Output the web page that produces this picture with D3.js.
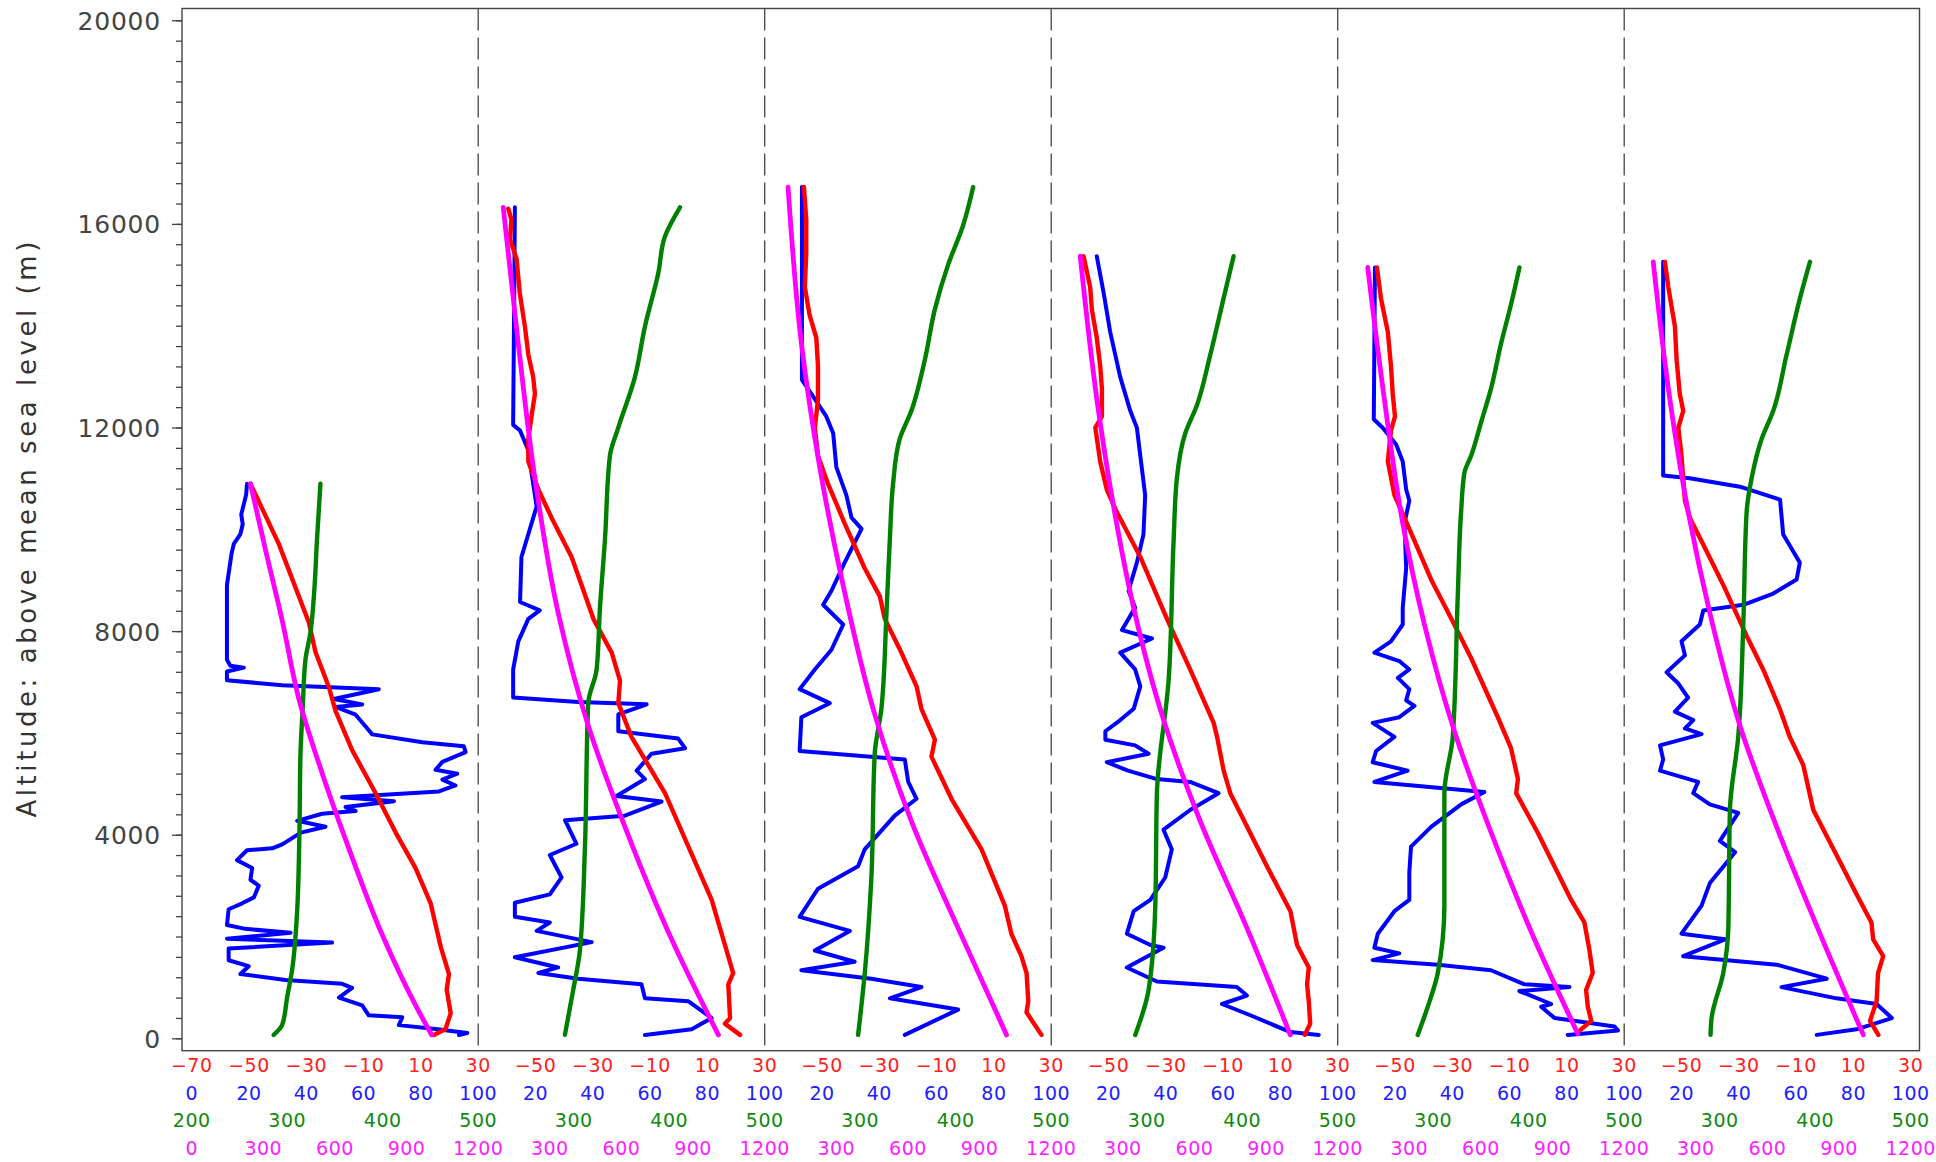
<!DOCTYPE html>
<html><head><meta charset="utf-8">
<script src="https://cdn.jsdelivr.net/npm/d3@7"></script>
<style>body{margin:0;background:#fff}svg{display:block}</style>
</head><body><svg id="chart" width="1936" height="1162"></svg>
<script>
// ---------- tick labels ----------
const altTicks = [0, 4000, 8000, 12000, 16000, 20000];
const tempTicks = [-70, -50, -30, -10, 10, 30];
const rhTicks = [0, 20, 40, 60, 80, 100];
const thetaTicks = [200, 300, 400, 500];
const presTicks = [0, 300, 600, 900, 1200];
const yTitle = "Altitude: above mean sea level (m)";

// ---------- data: [altitude m, value] ----------
// Panel 1
const temperature1 = [[10895,-49.5],[9714,-39.6],[8170,-29.1],[7591,-26.8],[6897,-22.1],[6434,-19.8],[5662,-14.0],[4813,-5.8],[4041,1.2],[3347,8.1],[2652,13.4],[1803,16.9],[1263,19.8],[954,19.0],[491,20.4],[182,18.6],[66,14.5]];
const humidity1 = [[10895,19.3],[10678,19.0],[10293,17.3],[10100,17.8],[9907,17.0],[9714,14.7],[9521,13.9],[8903,12.3],[7437,12.3],[7321,13.5],[7282,18.2],[7205,12.3],[7036,12.3],[6935,31.6],[6858,65.3],[6665,49.6],[6560,59.5],[6511,50.2],[6357,57.2],[6125,60.7],[5971,63.0],[5816,80.5],[5739,95.0],[5623,95.6],[5430,87.5],[5276,85.1],[5199,92.7],[5083,87.5],[4967,92.1],[4851,86.3],[4736,52.5],[4658,70.6],[4543,53.7],[4466,57.2],[4411,45.5],[4273,36.8],[4157,46.7],[4041,38.1],[3809,31.6],[3732,28.1],[3694,19.3],[3501,15.8],[3347,21.1],[3115,20.5],[2999,23.4],[2768,21.7],[2652,17.6],[2536,12.9],[2227,12.3],[2150,18.7],[2073,34.5],[1957,12.3],[1880,49.0],[1764,12.9],[1533,12.9],[1417,19.9],[1263,17.0],[1147,32.7],[1070,52.5],[992,56.0],[800,51.4],[645,59.5],[452,61.8],[414,73.5],[259,72.3],[182,85.1],[105,96.2],[66,93.3]];
const theta1 = [[10895,334.8],[9830,331.3],[8672,327.9],[7977,324.4],[7437,319.1],[6511,316.3],[5585,313.9],[4041,312.8],[2497,310.4],[1340,305.1],[800,299.9],[259,294.7],[66,285.9]];
const pressure1 = [[10895,246],[9598,309],[8209,379],[6665,449],[5199,547],[3732,658],[2034,798],[645,938],[66,1005]];
// Panel 2
const temperature2 = [[16300,-59.5],[16083,-58.4],[15697,-58.9],[15310,-56.6],[14647,-55.5],[13985,-53.7],[13432,-52.5],[12990,-50.8],[12659,-50.2],[12217,-51.4],[11775,-52.5],[11334,-52.5],[10781,-49.0],[10229,-44.4],[9456,-37.4],[8903,-33.9],[8241,-29.8],[7578,-23.4],[7026,-20.5],[6584,-21.1],[5921,-16.5],[4816,-4.8],[2718,11.5],[2276,13.8],[1724,16.7],[1282,19.0],[1061,17.3],[398,17.9],[288,16.1],[67,21.4]];
const humidity2 = [[16326,12.8],[14758,12.6],[12052,12.2],[11941,14.6],[11554,17.5],[11113,18.6],[10450,20.4],[9456,15.1],[8572,14.6],[8406,21.5],[8241,17.5],[7799,14.0],[7247,12.2],[6694,12.2],[6606,34.9],[6562,58.8],[6363,48.9],[6032,48.9],[5888,69.8],[5700,72.2],[5590,60.5],[5258,55.3],[5093,58.2],[4761,48.3],[4651,64.0],[4374,51.2],[4286,30.3],[3822,34.3],[3601,25.0],[3160,29.1],[2828,25.0],[2663,12.8],[2387,12.8],[2276,25.0],[2110,20.4],[1889,39.6],[1591,12.8],[1392,27.9],[1282,21.0],[1171,34.9],[1061,57.0],[785,58.2],[730,73.3],[398,81.5],[177,74.5],[67,58.2]];
const theta2 = [[16326,411.3],[15752,395.5],[15034,388.6],[13985,374.6],[12990,364.1],[11996,346.7],[11444,337.9],[9787,332.7],[8461,327.5],[7247,324.0],[6584,315.2],[3712,311.7],[1724,306.5],[950,299.5],[67,290.8]];
const pressure2 = [[16326,104.8],[13653,167.6],[11002,237.5],[8351,335.3],[6142,461],[4153,614.7],[1945,810],[67,1006]];
// Panel 3
const temperature3 = [[16724,-56.3],[16083,-55.5],[15420,-55.5],[14758,-56.0],[14205,-54.3],[13764,-52.0],[13211,-51.4],[12549,-51.4],[11996,-52.5],[11444,-51.4],[10892,-47.9],[10118,-42.1],[9235,-35.1],[8682,-29.8],[8241,-28.1],[7578,-22.3],[6915,-17.0],[6473,-15.3],[5866,-10.6],[5534,-11.8],[4706,-4.8],[3712,5.7],[2607,13.8],[2054,16.1],[1613,19.6],[1282,21.4],[729,22.0],[508,21.4],[67,26.6]];
const humidity3 = [[16724,13.0],[12935,13.0],[12659,16.3],[12217,21.5],[11886,23.9],[11223,25.0],[10671,28.5],[10229,30.3],[10008,33.8],[9345,27.9],[8793,23.3],[8517,20.4],[8130,27.4],[7633,23.3],[7247,17.5],[6860,12.2],[6584,22.7],[6308,12.8],[5645,12.2],[5479,48.9],[5037,50.1],[4706,53.0],[4374,45.4],[3712,34.9],[3380,32.6],[2938,18.6],[2387,12.2],[2110,29.7],[1724,17.5],[1503,31.4],[1337,12.8],[1171,37.2],[1006,54.7],[785,43.7],[564,67.5],[67,48.9]];
const theta3 = [[16724,418.3],[15973,407.8],[15200,392.1],[14316,378.1],[13322,367.6],[12328,353.6],[11775,341.4],[10892,334.4],[9787,331.0],[8351,327.5],[6473,322.2],[5590,315.2],[3159,311.7],[1282,304.8],[67,297.8]];
const pressure3 = [[16724,97.8],[13653,153.7],[11223,230.5],[8903,328.3],[6363,461],[4264,614.7],[2165,810],[67,1013]];
// Panel 4
const temperature4 = [[15365,-58.7],[14758,-56.4],[14316,-55.8],[13764,-54.1],[13211,-52.9],[12769,-52.3],[12217,-52.3],[11996,-54.6],[11334,-52.9],[10781,-50.6],[10339,-47.1],[9456,-38.9],[8241,-29.6],[7247,-21.5],[6197,-13.3],[5921,-12.1],[5258,-9.8],[4816,-7.5],[3380,5.3],[2497,13.5],[1834,15.8],[1392,19.9],[1061,19.3],[729,19.9],[287,20.4],[67,18.5]];
const humidity4 = [[15365,15.9],[14647,18.3],[13874,20.6],[12990,24.1],[12328,27.6],[11996,29.9],[11444,31.1],[10671,32.8],[9898,32.2],[9345,29.9],[8793,27.0],[8461,29.3],[8020,24.7],[7854,35.2],[7578,24.1],[7247,29.3],[6915,31.1],[6473,28.8],[6252,24.1],[6032,18.9],[5866,18.9],[5755,29.3],[5590,34.0],[5424,19.4],[5258,26.8],[5093,36.9],[5037,48.5],[4816,58.4],[4485,48.5],[4098,39.2],[3712,42.1],[3159,39.8],[2718,34.6],[2497,28.8],[2055,26.4],[1834,34.6],[1779,39.2],[1392,26.4],[1116,36.9],[1006,64.8],[840,68.3],[674,59.6],[453,69.5],[122,83.5],[67,93.4]];
const theta4 = [[15365,391.0],[14537,380.5],[13432,366.6],[12438,352.6],[11886,340.4],[11002,331.6],[9787,328.2],[7026,322.9],[4816,310.7],[2607,309.0],[950,302.0],[67,288.0]];
const pressure4 = [[15365,121.5],[12549,191.4],[10450,261.2],[8461,345.1],[6252,470.8],[4264,624.5],[2165,820],[67,1001.6]];
// Panel 5
const temperature5 = [[15144,-56.3],[14537,-54.9],[13874,-52.5],[13211,-51.4],[12659,-50.8],[12217,-50.0],[11941,-51.4],[11334,-52.5],[10671,-50.2],[10229,-46.7],[9014,-37.4],[8130,-29.3],[7467,-23.4],[6308,-14.1],[5700,-9.5],[5093,-7.1],[4816,-7.7],[4043,-0.2],[2718,11.5],[2276,16.1],[1724,17.9],[1282,19.0],[950,16.7],[619,17.3],[343,18.5],[122,13.8]];
const humidity5 = [[15144,13.0],[12162,12.6],[11996,15.7],[11665,20.4],[11334,22.7],[10781,23.9],[10560,25.0],[10118,23.3],[9235,23.9],[8461,22.7],[8130,22.7],[7799,18.6],[7578,12.8],[7412,21.5],[7247,25.0],[7081,21.0],[6860,25.0],[6639,23.9],[6529,26.8],[6308,21.5],[6197,12.2],[5921,19.8],[5645,13.4],[5424,12.2],[5258,24.4],[5037,12.8],[4839,51.2],[4596,43.1],[4153,32.6],[3767,25.6],[3270,25.0],[2718,25.0],[2497,19.8],[2055,14.0],[1779,12.8],[1669,21.5],[1536,12.2],[1447,34.9],[1337,53.5],[1061,65.2],[1006,80.9],[928,63.4],[674,74.5],[619,71.0],[398,75.7],[232,96.6],[155,97.8],[67,80.3]];
const theta5 = [[15144,390.3],[14426,381.6],[13653,371.1],[12769,360.6],[12107,350.2],[11444,339.7],[11113,332.7],[10340,329.2],[8682,325.7],[5921,320.5],[4816,311.7],[2607,311.7],[1282,304.8],[619,294.3],[67,283.8]];
const pressure5 = [[15144,125.7],[12549,195.6],[10118,272.4],[8130,363.2],[6032,488.9],[4043,642.6],[1945,824.2],[89,1005.8]];
// Panel 6
const temperature6 = [[15255,-55.8],[14758,-54.6],[13985,-52.3],[13322,-51.7],[12659,-50.6],[12328,-49.4],[11996,-51.1],[11444,-50.0],[10560,-48.8],[10229,-47.1],[9566,-41.2],[8903,-35.4],[7910,-27.3],[7247,-21.5],[6473,-15.7],[5921,-12.2],[5369,-7.5],[4485,-4.0],[3601,4.1],[2828,11.1],[2276,16.3],[1944,16.9],[1613,20.4],[1282,18.6],[729,18.1],[343,15.8],[67,18.7]];
const humidity6 = [[15255,13.6],[11057,13.6],[11002,22.9],[10837,40.4],[10582,54.4],[9898,55.5],[9621,58.4],[9345,61.3],[9014,60.2],[8738,52.0],[8517,41.6],[8406,27.6],[8130,26.4],[7799,20.0],[7523,21.2],[7191,14.8],[6970,18.9],[6694,22.3],[6418,17.7],[6252,24.1],[6087,21.2],[5976,27.0],[5755,12.5],[5479,13.6],[5258,12.5],[5037,25.8],[4816,24.1],[4595,29.9],[4430,39.8],[3877,33.4],[3656,38.7],[3049,29.9],[2607,27.0],[2055,20.0],[1944,35.2],[1613,20.6],[1447,53.2],[1171,70.7],[1006,54.9],[785,74.1],[674,88.1],[398,93.4],[177,81.1],[67,67.2]];
const theta6 = [[15255,394.5],[14537,384.0],[13432,370.1],[12328,356.1],[11775,343.9],[11002,333.4],[10340,328.2],[8130,324.7],[5921,319.4],[4485,310.7],[2165,309.0],[1282,303.7],[398,291.5],[67,290.4]];
const pressure6 = [[15255,121.5],[12549,191.4],[10339,268.2],[8351,359.0],[6142,484.8],[4153,638.4],[2055,820],[67,1001.6]];

const panels = [
  {temperature: temperature1, humidity: humidity1, theta: theta1, pressure: pressure1},
  {temperature: temperature2, humidity: humidity2, theta: theta2, pressure: pressure2},
  {temperature: temperature3, humidity: humidity3, theta: theta3, pressure: pressure3},
  {temperature: temperature4, humidity: humidity4, theta: theta4, pressure: pressure4},
  {temperature: temperature5, humidity: humidity5, theta: theta5, pressure: pressure5},
  {temperature: temperature6, humidity: humidity6, theta: theta6, pressure: pressure6}
];

// ---------- layout ----------
const frame = {left: 182, right: 1919.5, top: 8.5, bottom: 1050.7};
const panelX0 = 191.7, panelW = 286.5;
const svg = d3.select("#chart");
const y = d3.scaleLinear([0, 20000], [1038.3, 20.3]);

const series = [
  {key: "humidity", domain: [0, 100], ticks: rhTicks, color: "#0000ff", width: 4, row: 1100, curve: d3.curveLinear},
  {key: "temperature", domain: [-70, 30], ticks: tempTicks, color: "#ff0000", width: 4.4, row: 1072.3, curve: d3.curveLinear},
  {key: "theta", domain: [200, 500], ticks: thetaTicks, color: "#008000", width: 4.4, row: 1126.8, curve: d3.curveMonotoneY},
  {key: "pressure", domain: [0, 1200], ticks: presTicks, color: "#ff00ff", width: 4.8, row: 1154.5, curve: d3.curveMonotoneY}
];
const labelColor = {temperature: "#ff2020", humidity: "#2020ff", theta: "#118811", pressure: "#ff20ff"};

// dashed dividers between panels
for (let k = 1; k < panels.length; k++) {
  const xd = panelX0 + panelW * k;
  svg.append("line").attr("x1", xd).attr("x2", xd)
    .attr("y1", frame.top).attr("y2", frame.bottom)
    .attr("stroke", "#444").attr("stroke-width", 1.3)
    .attr("stroke-dasharray", "22,7");
}

// frame
svg.append("rect").attr("x", frame.left).attr("y", frame.top)
  .attr("width", frame.right - frame.left).attr("height", frame.bottom - frame.top)
  .attr("fill", "none").attr("stroke", "#444").attr("stroke-width", 1.4);

// y axis: major and minor ticks
const yMinor = svg.append("g").attr("transform", `translate(${frame.left},0)`)
  .call(d3.axisLeft(y).tickValues(d3.range(0, 20001, 400)).tickSize(6).tickFormat(""));
yMinor.select(".domain").remove();
yMinor.selectAll("line").attr("stroke", "#444").attr("stroke-width", 1.3);

const yMajor = svg.append("g").attr("transform", `translate(${frame.left},0)`)
  .call(d3.axisLeft(y).tickValues(altTicks).tickSize(10).tickPadding(11).tickFormat(d3.format("d")));
yMajor.select(".domain").remove();
yMajor.selectAll("line").attr("stroke", "#444").attr("stroke-width", 1.3);
yMajor.selectAll("text").attr("font-family", "DejaVu Sans, sans-serif")
  .attr("font-size", 25).attr("fill", "#444").attr("letter-spacing", 0.8)
  .attr("dy", "0.36em");

// y title
svg.append("text")
  .attr("transform", `translate(36,${(frame.top + frame.bottom) / 2}) rotate(-90)`)
  .attr("text-anchor", "middle")
  .attr("font-family", "DejaVu Sans, sans-serif").attr("font-size", 26)
  .attr("fill", "#333").attr("textLength", 576).attr("lengthAdjust", "spacing")
  .text(yTitle);

// panels
panels.forEach((p, k) => {
  const x0 = panelX0 + panelW * k;
  series.forEach(s => {
    const xs = d3.scaleLinear(s.domain, [x0, x0 + panelW]);
    const line = d3.line().x(d => xs(d[1])).y(d => y(d[0])).curve(s.curve);
    svg.append("path").datum(p[s.key])
      .attr("d", line).attr("fill", "none")
      .attr("stroke", s.color).attr("stroke-width", s.width)
      .attr("stroke-linejoin", "round").attr("stroke-linecap", "round");
    // bottom tick labels
    const fmt = d3.format("d");
    svg.append("g").selectAll("text")
      .data(k === 0 ? s.ticks : s.ticks.slice(1))
      .join("text")
      .attr("x", d => xs(d)).attr("y", s.row)
      .attr("text-anchor", "middle")
      .attr("font-family", "DejaVu Sans, sans-serif").attr("font-size", 19)
      .attr("letter-spacing", 0.5)
      .attr("fill", labelColor[s.key])
      .text(d => fmt(d));
  });
});
</script>
</body></html>
